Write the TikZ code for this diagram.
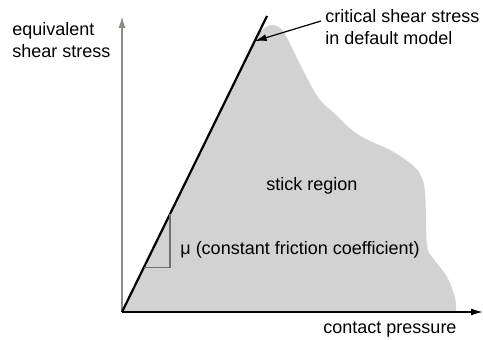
\documentclass[tikz,border=0pt]{standalone}
\usepackage{fontspec}
\setmainfont{Liberation Sans}
\usepackage{xcolor,tikz}
\usetikzlibrary{arrows.meta,positioning,calc}
\definecolor{RegionFill}{HTML}{D2D2D2}
\definecolor{AxisGrey}{HTML}{8C8C84}
\definecolor{StepGrey}{HTML}{707070}
\tikzset{>={Latex[length=6pt,width=3.5pt]},every node/.style={font=\fontsize{9}{11}\selectfont},
 axis/.style={line width=.8pt,->},label/.style={inner sep=0pt,align=left},
 slope/.style={line width=1.1pt,black},steptri/.style={draw=StepGrey,line width=.7pt}}
\begin{document}
\begin{tikzpicture}[x=.5pt,y=-.5pt]
\useasboundingbox (0,0) rectangle (483,340);
\coordinate (O) at (122,312);
\coordinate (top) at (122,16);
\coordinate (right) at (483,312);
\coordinate (lineend) at (267,16);
% stick region
\fill[RegionFill] (O)--(258,34)--plot[smooth,tension=.6] coordinates {(258,34)(266,27)(274,25)(283,31)
 (293,50)(307,78)(320,100)(335,114)(353,131)(370,141)(390,150)(410,163)(420,174)(425,192)
 (427,245)(433,258)(447,277)(455,298)(456,312)}--cycle;
\draw[axis,AxisGrey] (O)--(top);
\draw[axis,black] (O)--(right);
\draw[slope] (O)--(lineend);
% slope triangle
\draw[steptri] ($(O)!.15!(lineend)$) coordinate (tA) -| ($(O)!.33!(lineend)$) coordinate (tB);
\node[label,anchor=north west] (ylab) at (12,22) {equivalent\\shear stress};
\node[label,anchor=north west] (crit) at (325,9) {critical shear stress\\in default model};
\node (stick) at (312,186) {stick region};
\node[label,anchor=west] (mu) at (180,250) {μ (constant friction coefficient)};
\node (xlab) at (390,330) {contact pressure};
\coordinate (hit) at ($(O)!.915!(lineend)$);
\draw[->,line width=.6pt] ([xshift=-2pt,yshift=3pt]crit.west)--(hit);
\end{tikzpicture}
\end{document}
